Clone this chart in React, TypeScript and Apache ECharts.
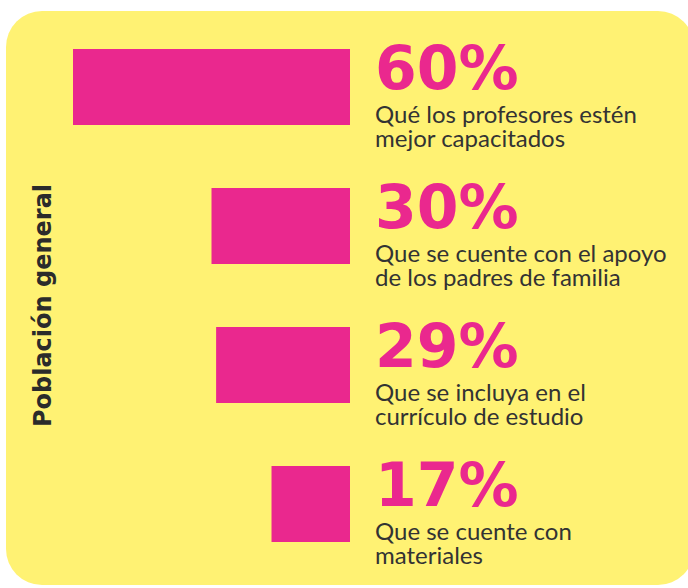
import React, { useEffect, useRef } from "react";
import * as echarts from "echarts";

const categories = [
  "Qué los profesores estén mejor capacitados",
  "Que se cuente con el apoyo de los padres de familia",
  "Que se incluya en el currículo de estudio",
  "Que se cuente con materiales",
];
const descLines = [
  ["Qué los profesores estén", "mejor capacitados"],
  ["Que se cuente con el apoyo", "de los padres de familia"],
  ["Que se incluya en el", "currículo de estudio"],
  ["Que se cuente con", "materiales"],
];
const values = [60, 30, 29, 17];
const axisTitle = "Población general";

const PINK = "#EA288E";
const YELLOW = "#FFF273";

export default function App() {
  const ref = useRef<HTMLDivElement>(null);
  useEffect(() => {
    if (!ref.current) return;
    const chart = echarts.init(ref.current, null, { renderer: "svg" });
    chart.setOption({
      animation: false,
      graphic: [
        {
          type: "rect",
          z: -10,
          silent: true,
          shape: { x: 6, y: 11, width: 688, height: 574, r: 36 },
          style: { fill: YELLOW },
        },
      ],
      grid: { left: 73, right: 338, top: 17.5, bottom: 14.5 },
      xAxis: {
        type: "value",
        inverse: true,
        min: 0,
        max: 60,
        show: false,
      },
      yAxis: {
        type: "category",
        inverse: true,
        data: categories,
        axisLine: { show: false },
        axisTick: { show: false },
        axisLabel: { show: false },
        name: axisTitle,
        nameLocation: "middle",
        nameRotate: 90,
        nameGap: 18,
        nameTextStyle: {
          fontFamily: "DejaVu Sans",
          fontWeight: "bold",
          fontSize: 24,
          color: "#2b2b2b",
          padding: [0, 20, 0, 0],
        },
      },
      series: [
        {
          type: "bar",
          data: values,
          barWidth: 76,
          itemStyle: { color: PINK },
          label: {
            show: true,
            position: "right",
            distance: 25,
            align: "left",
            offset: [0, 5],
            formatter: (p: any) => {
              const l = descLines[p.dataIndex];
              return `{p|${values[p.dataIndex]}%}\n{d|${l[0]}}\n{d|${l[1]}}`;
            },
            rich: {
              p: {
                fontFamily: "DejaVu Sans",
                fontWeight: "bold",
                fontSize: 60,
                color: PINK,
                lineHeight: 66,
              },
              d: {
                fontFamily: "Lato",
                fontSize: 24,
                color: "#333333",
                lineHeight: 24,
              },
            },
          },
        },
      ],
    });
    return () => chart.dispose();
  }, []);
  return (
    <div
      ref={ref}
      style={{ position: "absolute", left: 0, top: 0, width: 688, height: 588 }}
    />
  );
}
